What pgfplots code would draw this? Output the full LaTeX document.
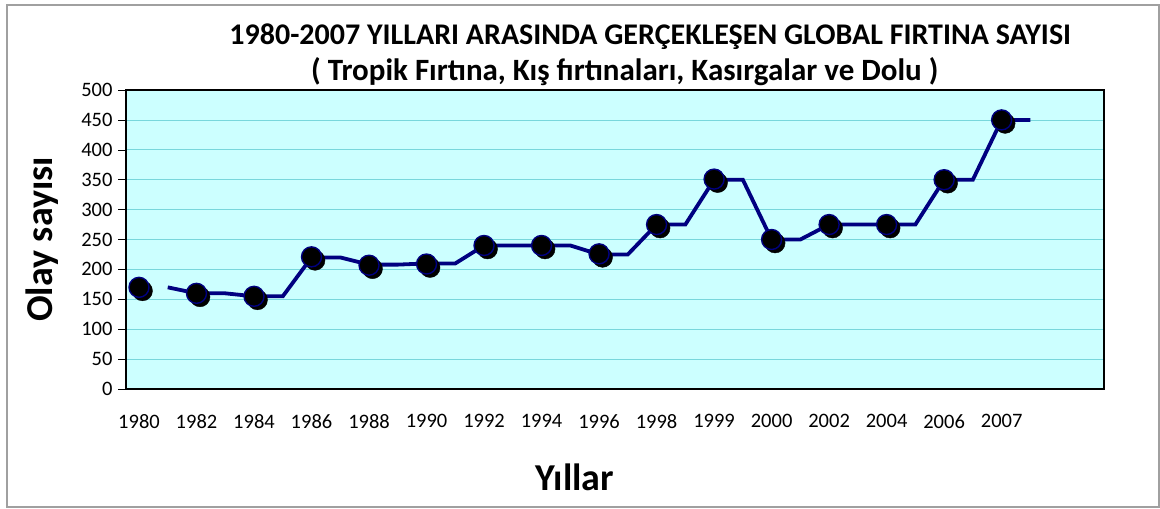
\documentclass[border=0pt]{standalone}
\usepackage{pgfplots}
\pgfplotsset{compat=1.18}
\usepackage{fontspec}
\setmainfont{Carlito}
\definecolor{navyline}{RGB}{0,0,128}
\definecolor{plotbg}{RGB}{204,255,255}
\definecolor{gridc}{RGB}{120,215,220}
\definecolor{framec}{RGB}{160,160,160}
\begin{document}
\begin{tikzpicture}
\begin{axis}[
  at={(0pt,0pt)}, anchor=south west,
  scale only axis, width=978pt, height=299pt,
  xmin=-0.226, xmax=16.78, ymin=0, ymax=500,
  clip=false,
  axis background/.style={fill=plotbg},
  axis line style={black, line width=2.8pt},
  ytick={0,50,...,500},
  ymajorgrids, major grid style={gridc, line width=0.8pt},
  ytick pos=left, tick align=outside, major tick length=8pt,
  ytick style={black, line width=0.6pt},
  xtick={0,...,15},
  xticklabels={1980,1982,1984,1986,1988,1990,1992,1994,1996,1998,1999,2000,2002,2004,2006,2007},
  xtick style={draw=none},
  /pgf/number format/assume math mode=true,
  tick label style={font=\fontsize{20.5}{24}\selectfont},
  yticklabel style={xshift=-2pt},
  xticklabel style={yshift=-14pt},
  xlabel={Yıllar},
  xlabel style={at={(axis description cs:0.459,-0.294)}, anchor=center, font=\fontsize{38}{44}\selectfont\bfseries},
  ylabel={Olay sayısı},
  ylabel style={at={(axis description cs:-0.086,0.5)}, anchor=center, font=\fontsize{38}{44}\selectfont\bfseries},
]
% shadow of the markers
\addplot[only marks, mark=*, mark size=10pt, mark options={fill=black, draw=black, xshift=3.5pt, yshift=-3.5pt}] coordinates {
(0,170) (1,160) (2,155) (3,221) (4,207) (5,209) (6,240) (7,240) (8,226) (9,275) (10,351) (11,250) (12,275) (13,275) (14,350) (15,450)
};
% markers
\addplot[only marks, mark=*, mark size=10pt, mark options={fill=black, draw=navyline, line width=1.4pt}] coordinates {
(0,170) (1,160) (2,155) (3,221) (4,207) (5,209) (6,240) (7,240) (8,226) (9,275) (10,351) (11,250) (12,275) (13,275) (14,350) (15,450)
};
% line
\addplot[navyline, line width=3.8pt, mark=none] coordinates {
(0.5,170) (1,160) (1.5,160) (2,155) (2.5,155) (3,220) (3.5,220) (4,208) (4.5,208) (5,210) (5.5,210) (6,240) (6.5,240) (7,240) (7.5,240) (8,225) (8.5,225) (9,275) (9.5,275) (10,350) (10.5,350) (11,250) (11.5,250) (12,275) (12.5,275) (13,275) (13.5,275) (14,350) (14.5,350) (15,450) (15.5,450)
};
\node[anchor=center, font=\fontsize{30}{34}\selectfont\bfseries] at (axis description cs:0.536,1.178) {1980-2007 YILLARI ARASINDA GERÇEKLEŞEN GLOBAL FIRTINA SAYISI};
\node[anchor=center, font=\fontsize{31}{35}\selectfont\bfseries] at (axis description cs:0.510,1.060) {( Tropik Fırtına, Kış fırtınaları, Kasırgalar ve Dolu )};
\end{axis}
\draw[framec, line width=1.2pt] (-119pt,-118pt) rectangle (1033pt,384pt);
\pgfresetboundingbox
\path (-126pt,-120pt) rectangle (1034pt,389pt);
\end{tikzpicture}
\end{document}
